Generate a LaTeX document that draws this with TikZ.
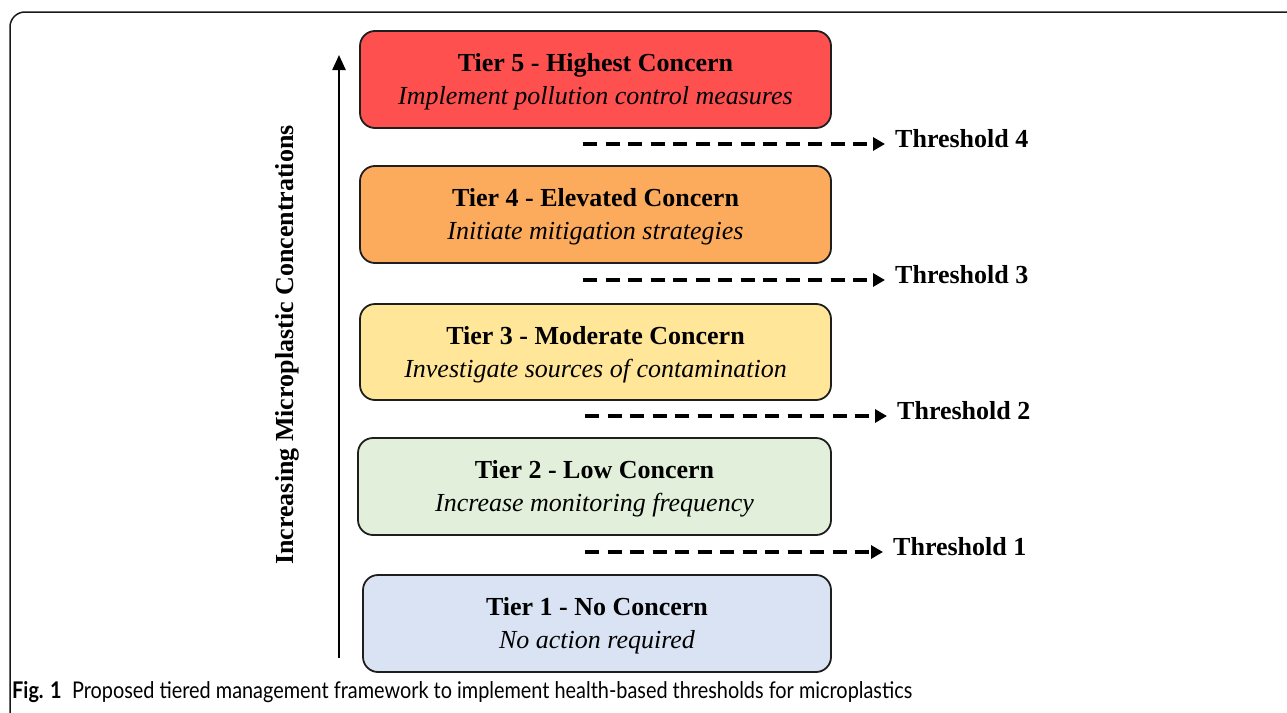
\documentclass[tikz,border=0pt]{standalone}
\usepackage{fontspec}
\usepackage{graphicx}
\setmainfont{Liberation Serif}
\newfontfamily\capfont{Lato}
\usetikzlibrary{arrows.meta,calc}
\definecolor{cfive}{RGB}{255,80,80}
\definecolor{cfour}{RGB}{252,170,92}
\definecolor{cthree}{RGB}{255,230,153}
\definecolor{ctwo}{RGB}{226,239,218}
\definecolor{cone}{RGB}{218,227,243}
\definecolor{edge}{RGB}{30,30,30}
\begin{document}
\begin{tikzpicture}[x=1pt,y=-1pt,
  tierbox/.style={draw=edge,line width=1.8pt,rounded corners=15pt,inner sep=0pt,minimum height=97pt},
  ttl/.style={font=\fontsize{26}{30}\selectfont\bfseries,anchor=base,inner sep=0pt},
  act/.style={font=\fontsize{26}{30}\selectfont\itshape,anchor=base,inner sep=0pt},
  thr/.style={line width=3.2pt,dash pattern=on 14pt off 8.5pt,-{Triangle[length=12pt,width=13pt]}},
  thrlab/.style={font=\fontsize{26}{30}\selectfont\bfseries,anchor=base west,inner sep=0pt}]
\useasboundingbox (0,0) rectangle (1287,712);
\clip (0,0) rectangle (1287,712);
% frame
\draw[line width=1.5pt,rounded corners=15pt,draw=black!90] (1320,12) -- (10,12) -- (10,740);
% tiers
\node[tierbox,fill=cfive,minimum width=471pt] (t5) at (595.5,79.5) {};
\node[tierbox,fill=cfour,minimum width=471pt] (t4) at (595.5,214.5) {};
\node[tierbox,fill=cthree,minimum width=471pt,minimum height=96pt] (t3) at (595.5,352) {};
\node[tierbox,fill=ctwo,minimum width=473pt] (t2) at (594.5,486.5) {};
\node[tierbox,fill=cone,minimum width=468pt] (t1) at (597,623.5) {};
\foreach \n/\a/\b in {t5/Tier 5 - Highest Concern/Implement pollution control measures,
                      t4/Tier 4 - Elevated Concern/Initiate mitigation strategies,
                      t3/Tier 3 - Moderate Concern/Investigate sources of contamination,
                      t2/Tier 2 - Low Concern/Increase monitoring frequency,
                      t1/Tier 1 - No Concern/No action required}{
  \node[ttl] (\n a) at ($(\n.north)+(0,41)$) {\a};
  \node[act] (\n b) at ($(\n.north)+(0,74)$) {\b};
}
% thresholds
\node[thrlab] (th4) at (895,147) {Threshold 4};
\node[thrlab] (th3) at (895,283) {Threshold 3};
\node[thrlab] (th2) at (897,419) {Threshold 2};
\node[thrlab] (th1) at (893,555) {Threshold 1};
\coordinate (s4) at (583,144);
\coordinate (s3) at (583,280);
\coordinate (s2) at (585,416);
\coordinate (s1) at (585,552);
\foreach \i in {1,2,3,4}{
  \draw[thr] (s\i) -- ($(s\i -| th\i.west)+(-10,0)$);
}
% vertical axis
\coordinate (vb) at (339,658);
\coordinate (vt) at (339,55);
\draw[line width=2.4pt,-{Triangle[length=15pt,width=13pt]}] (vb) -- (vt);
\node[rotate=90,font=\fontsize{26}{30}\selectfont\bfseries,inner sep=0pt] (vlab) at (287,345) {Increasing Microplastic Concentrations};
% caption
\node[anchor=base west,inner sep=0pt,font=\capfont\fontsize{23}{26}\selectfont] (cap) at (12,698)
  {\resizebox{900pt}{\height}{\textbf{Fig. 1}\hspace{12pt}Proposed tiered management framework to implement health-based thresholds for microplastics}};
\end{tikzpicture}
\end{document}
